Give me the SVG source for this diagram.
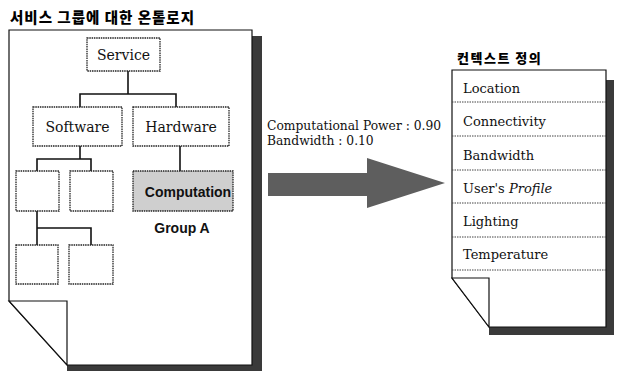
<svg xmlns="http://www.w3.org/2000/svg" width="619" height="372" viewBox="0 0 619 372">
<style>
.serif{font-family:"DejaVu Serif","Liberation Serif",serif;fill:#111}
.kr{font-family:"Noto Sans CJK KR","Noto Sans",sans-serif;font-weight:900;fill:#000}
.sansb{font-family:"Liberation Sans",Arial,sans-serif;font-weight:bold;fill:#111}
.box{fill:#fff;stroke:#222;stroke-width:1.3;stroke-dasharray:1.5 0.8}
.page{fill:#fff;stroke:#111;stroke-width:1.2}
.shadow{fill:#3a3a3a}
.conn{fill:none;stroke:#111;stroke-width:1.6}
.div{stroke:#444;stroke-width:1;stroke-dasharray:1.5 1}
</style>

<text class="kr" x="10" y="23" font-size="14.5" letter-spacing="1">서비스 그룹에 대한 온톨로지</text>
<text class="kr" x="457" y="63" font-size="13" letter-spacing="1.5">컨텍스트 정의</text>

<g id="left-page">
  <path class="shadow" d="M252,36 H262 V371 H67 V365 H252 Z"/>
  <path class="page" d="M9,30 H252 V365 H67 L9,301 Z"/>
  <path class="page" d="M9,301 H67 V365 Z"/>
</g>

<g id="right-page">
  <path class="shadow" d="M606,80 H614 V335 H489 V327 H606 Z"/>
  <path class="page" d="M452,70 H606 V327 H489 L452,278 Z"/>
  <path class="page" d="M452,278 H489 V327 Z"/>
  <line class="div" x1="452" y1="102" x2="606" y2="102"/>
  <line class="div" x1="452" y1="136" x2="606" y2="136"/>
  <line class="div" x1="452" y1="170" x2="606" y2="170"/>
  <line class="div" x1="452" y1="203" x2="606" y2="203"/>
  <line class="div" x1="452" y1="237" x2="606" y2="237"/>
  <line class="div" x1="452" y1="270" x2="606" y2="270"/>
  <text class="serif" x="463" y="93" font-size="13">Location</text>
  <text class="serif" x="463" y="126" font-size="13">Connectivity</text>
  <text class="serif" x="463" y="160" font-size="13">Bandwidth</text>
  <text class="serif" x="463" y="193" font-size="13">User's <tspan font-style="italic">Profile</tspan></text>
  <text class="serif" x="463" y="226" font-size="13">Lighting</text>
  <text class="serif" x="463" y="259" font-size="13">Temperature</text>
</g>

<g id="connectors">
  <polyline class="conn" points="128,71 128,94"/>
  <polyline class="conn" points="80,107 80,94 176,94 176,107"/>
  <polyline class="conn" points="80,146 80,159"/>
  <polyline class="conn" points="37,171 37,159 91,159 91,171"/>
  <polyline class="conn" points="180,146 180,171"/>
  <polyline class="conn" points="37,211 37,245"/>
  <polyline class="conn" points="37,228 91,228 91,245"/>
</g>

<g id="service"><rect class="box" x="87" y="38" width="73" height="33"/><text class="serif" x="123.5" y="60" font-size="14" text-anchor="middle">Service</text></g>
<g id="software"><rect class="box" x="33" y="107" width="89" height="39"/><text class="serif" x="77.5" y="132" font-size="14" text-anchor="middle">Software</text></g>
<g id="hardware"><rect class="box" x="133" y="107" width="96" height="39"/><text class="serif" x="181" y="132" font-size="14" text-anchor="middle">Hardware</text></g>
<g id="computation"><rect class="box" x="133" y="171" width="100" height="40" style="fill:#cfcfcf"/><text class="sansb" x="188" y="197" font-size="14" text-anchor="middle">Computation</text></g>
<g id="group-a"><text class="sansb" x="182" y="233" font-size="14" text-anchor="middle">Group A</text></g>
<g id="leaf1"><rect class="box" x="16" y="171" width="43" height="40"/></g>
<g id="leaf2"><rect class="box" x="70" y="171" width="43" height="40"/></g>
<g id="leaf3"><rect class="box" x="16" y="245" width="42" height="39"/></g>
<g id="leaf4"><rect class="box" x="69" y="245" width="44" height="39"/></g>

<g id="mapping">
  <text class="serif" x="267" y="130" font-size="12.3">Computational Power : 0.90</text>
  <text class="serif" x="267" y="145" font-size="12.3">Bandwidth : 0.10</text>
  <path d="M268,173 H367 V158 L445,183 L367,208 V196 H268 Z" fill="#5e5e5e"/>
</g>
</svg>
